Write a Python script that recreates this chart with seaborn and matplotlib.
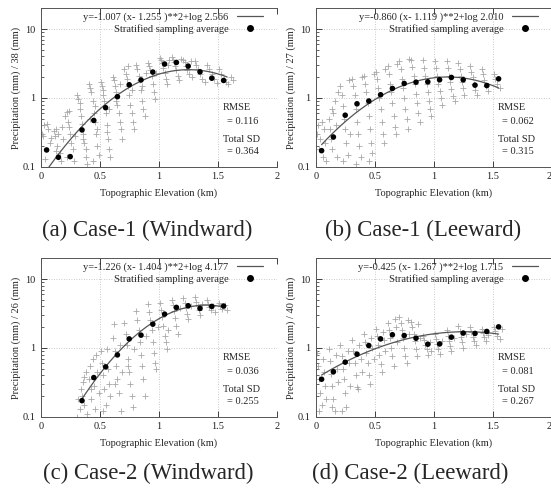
import numpy as np
import pandas as pd
import matplotlib
matplotlib.use("Agg")
import matplotlib.pyplot as plt
import seaborn as sns
from matplotlib.lines import Line2D
from matplotlib.ticker import FixedLocator, LogLocator, NullFormatter

sns.set_style("ticks")
plt.rcParams['font.family'] = ['Liberation Serif', 'DejaVu Serif']

# ---- data ------------------------------------------------------------------
panel_ids = ["a", "b", "c", "d"]
captions = ["(a) Case-1 (Windward)", "(b) Case-1 (Leeward)",
            "(c) Case-2 (Windward)", "(d) Case-2 (Leeward)"]
divisors = [38, 27, 26, 40]
rmse_vals = ["0.116", "0.062", "0.036", "0.081"]
total_sd_vals = ["0.364", "0.315", "0.255", "0.267"]

# fit coefficients as printed in the key: log y = a (x - b)^2 + log c
fit_a = [-1.007, -0.860, -1.226, -0.425]
fit_b = [1.255, 1.119, 1.404, 1.267]
fit_c = [2.566, 2.010, 4.177, 1.715]
fit_xmin = [0.05, 0.05, 0.35, 0.05]
fit_xmax = [1.58, 1.55, 1.55, 1.55]

avg_x = [0.05, 0.15, 0.25, 0.35, 0.45, 0.55, 0.65, 0.75,
         0.85, 0.95, 1.05, 1.15, 1.25, 1.35, 1.45, 1.55]
avg_a = [0.175, 0.137, 0.14, 0.342, 0.47, 0.72, 1.04, 1.55,
         1.82, 2.37, 3.1, 3.27, 2.89, 2.39, 1.93, 1.79]
avg_b = [0.171, 0.27, 0.56, 0.82, 0.90, 1.11, 1.37, 1.62,
         1.69, 1.71, 1.83, 1.98, 1.83, 1.53, 1.51, 1.89]
avg_c_x = [0.35, 0.45, 0.55, 0.65, 0.75, 0.85, 0.95,
           1.05, 1.15, 1.25, 1.35, 1.45, 1.55]
avg_c = [0.171, 0.37, 0.53, 0.79, 1.35, 1.53, 2.21,
         3.09, 3.87, 4.09, 3.74, 4.0, 4.05]
avg_d = [0.35, 0.45, 0.62, 0.81, 1.08, 1.35, 1.55, 1.51,
         1.38, 1.13, 1.14, 1.43, 1.64, 1.62, 1.73, 2.02]

pts_a = [
    (0.01, 0.30), (0.03, 0.40), (0.05, 0.42), (0.06, 0.35), (0.08, 0.22), (0.09, 0.26), (0.04, 0.13), (0.02, 0.28),
    (0.11, 0.33), (0.12, 0.28), (0.13, 0.35), (0.14, 0.20), (0.16, 0.16), (0.17, 0.12), (0.18, 0.38), (0.19, 0.25), (0.15, 0.30), (0.13, 0.17),
    (0.21, 0.55), (0.22, 0.62), (0.23, 0.45), (0.24, 0.38), (0.25, 0.30), (0.26, 0.22), (0.27, 0.18), (0.28, 0.12), (0.24, 0.65), (0.29, 0.28), (0.22, 0.14),
    (0.31, 1.10), (0.32, 0.95), (0.33, 0.70), (0.34, 0.55), (0.35, 0.42), (0.36, 0.30), (0.37, 0.22), (0.38, 0.14), (0.39, 0.11), (0.33, 0.85), (0.36, 0.25), (0.38, 0.18),
    (0.41, 1.60), (0.42, 1.40), (0.43, 1.20), (0.44, 0.90), (0.45, 0.60), (0.46, 0.45), (0.47, 0.30), (0.48, 0.20), (0.49, 0.15), (0.44, 0.12), (0.46, 0.75), (0.48, 0.35), (0.42, 0.50),
    (0.51, 1.70), (0.52, 1.50), (0.53, 1.10), (0.54, 0.90), (0.55, 0.60), (0.56, 0.40), (0.57, 0.25), (0.58, 0.18), (0.59, 0.14), (0.53, 1.30), (0.56, 0.32), (0.58, 0.70),
    (0.61, 2.00), (0.62, 1.80), (0.63, 1.50), (0.64, 1.20), (0.65, 0.80), (0.66, 0.60), (0.67, 0.45), (0.68, 0.35), (0.69, 0.25), (0.64, 0.90), (0.67, 1.60),
    (0.71, 2.60), (0.72, 2.20), (0.73, 1.90), (0.74, 1.50), (0.75, 1.10), (0.76, 0.80), (0.77, 0.60), (0.78, 0.45), (0.79, 0.35), (0.74, 2.90), (0.77, 1.30),
    (0.81, 3.00), (0.82, 2.60), (0.83, 2.10), (0.84, 1.80), (0.85, 1.30), (0.86, 0.90), (0.87, 0.70), (0.88, 0.55), (0.86, 1.50), (0.89, 2.30),
    (0.91, 3.20), (0.92, 2.90), (0.93, 2.50), (0.94, 2.10), (0.95, 1.60), (0.96, 1.20), (0.97, 0.95), (0.98, 2.30),
    (1.01, 3.80), (1.02, 3.50), (1.03, 3.20), (1.04, 2.70), (1.05, 2.30), (1.06, 1.90), (1.07, 1.60), (1.08, 3.00), (1.09, 3.60),
    (1.11, 3.90), (1.12, 3.60), (1.13, 3.30), (1.14, 2.90), (1.15, 2.50), (1.16, 2.10), (1.17, 1.80), (1.19, 3.70),
    (1.21, 3.60), (1.22, 3.30), (1.23, 2.90), (1.24, 2.50), (1.26, 2.20), (1.28, 2.00), (1.27, 3.40),
    (1.31, 3.40), (1.32, 3.00), (1.33, 2.60), (1.35, 2.20), (1.37, 1.90), (1.39, 1.70),
    (1.41, 3.00), (1.43, 2.60), (1.45, 2.20), (1.47, 1.90), (1.49, 1.65),
    (1.51, 2.60), (1.53, 2.20), (1.55, 1.90), (1.57, 1.70), (1.59, 1.60),
    (1.61, 2.00), (1.63, 1.80),
]

pts_b = [
    (0.01, 0.30), (0.02, 0.40), (0.03, 0.18), (0.04, 0.25), (0.06, 0.14), (0.07, 0.35), (0.08, 0.22), (0.09, 0.12), (0.05, 0.45),
    (0.11, 0.50), (0.12, 0.35), (0.13, 0.25), (0.14, 0.18), (0.15, 0.60), (0.16, 0.90), (0.17, 0.40), (0.18, 0.14), (0.19, 1.20), (0.14, 0.70),
    (0.21, 1.50), (0.22, 1.10), (0.23, 0.75), (0.24, 0.50), (0.25, 0.35), (0.26, 0.22), (0.27, 0.15), (0.28, 1.80), (0.29, 0.30), (0.23, 0.12),
    (0.31, 1.90), (0.32, 1.50), (0.33, 1.10), (0.34, 0.70), (0.35, 0.45), (0.36, 0.30), (0.37, 0.20), (0.38, 0.14), (0.39, 2.00), (0.34, 0.11),
    (0.41, 2.10), (0.42, 1.60), (0.43, 1.20), (0.44, 0.85), (0.45, 0.55), (0.46, 0.35), (0.47, 0.22), (0.48, 0.16), (0.49, 2.20), (0.45, 0.12),
    (0.51, 2.40), (0.52, 1.90), (0.53, 1.40), (0.54, 1.00), (0.55, 0.70), (0.56, 0.45), (0.57, 0.30), (0.58, 0.22), (0.59, 2.60),
    (0.61, 2.90), (0.62, 2.20), (0.63, 1.60), (0.64, 1.20), (0.65, 0.85), (0.66, 0.55), (0.67, 0.38), (0.68, 0.30), (0.69, 3.10),
    (0.71, 3.40), (0.72, 2.60), (0.73, 1.90), (0.74, 1.40), (0.75, 1.00), (0.76, 0.70), (0.77, 0.50), (0.78, 0.35), (0.79, 3.70),
    (0.81, 3.60), (0.82, 2.80), (0.83, 2.10), (0.84, 1.60), (0.85, 1.15), (0.86, 0.85), (0.87, 0.60), (0.88, 0.45),
    (0.91, 3.50), (0.92, 2.70), (0.93, 2.10), (0.94, 1.60), (0.95, 1.20), (0.96, 0.90), (0.97, 0.70), (0.98, 0.55),
    (1.01, 3.40), (1.02, 2.70), (1.03, 2.10), (1.04, 1.60), (1.05, 1.25), (1.06, 1.00), (1.07, 0.80),
    (1.11, 3.40), (1.12, 2.70), (1.13, 2.10), (1.14, 1.70), (1.15, 1.35), (1.16, 1.05), (1.18, 0.90),
    (1.21, 3.20), (1.22, 2.60), (1.23, 2.10), (1.24, 1.70), (1.25, 1.40), (1.26, 1.10),
    (1.31, 2.90), (1.32, 2.40), (1.33, 2.00), (1.34, 1.60), (1.35, 1.30), (1.37, 1.10),
    (1.41, 2.60), (1.42, 2.20), (1.43, 1.80), (1.44, 1.50), (1.46, 1.25),
    (1.51, 2.20), (1.52, 1.90), (1.54, 1.60), (1.56, 1.40),
]

pts_c = [
    (0.31, 0.10), (0.32, 0.18), (0.33, 0.13), (0.34, 0.25), (0.35, 0.20), (0.36, 0.32), (0.37, 0.15), (0.38, 0.45), (0.39, 0.11), (0.37, 0.38),
    (0.41, 0.35), (0.42, 0.55), (0.43, 0.18), (0.44, 0.70), (0.45, 0.28), (0.46, 0.13), (0.47, 0.80), (0.48, 0.45), (0.49, 0.22), (0.43, 0.25),
    (0.51, 0.90), (0.52, 0.60), (0.53, 0.40), (0.54, 0.25), (0.55, 0.15), (0.56, 0.95), (0.57, 0.50), (0.58, 0.30), (0.59, 0.20), (0.53, 0.12),
    (0.61, 1.40), (0.62, 2.20), (0.63, 0.90), (0.64, 0.55), (0.65, 0.35), (0.66, 0.22), (0.67, 1.10), (0.68, 0.12), (0.69, 0.45), (0.63, 0.30),
    (0.71, 2.30), (0.72, 1.60), (0.73, 1.10), (0.74, 0.70), (0.75, 0.45), (0.76, 0.30), (0.77, 0.20), (0.78, 0.14), (0.79, 0.95), (0.74, 0.55),
    (0.81, 3.40), (0.82, 2.50), (0.83, 1.80), (0.84, 1.20), (0.85, 0.80), (0.86, 0.55), (0.87, 0.35), (0.88, 0.20), (0.89, 1.50),
    (0.91, 4.30), (0.92, 3.30), (0.93, 2.50), (0.94, 1.80), (0.95, 1.20), (0.96, 0.85), (0.97, 0.60), (0.98, 0.50), (0.99, 2.00),
    (1.01, 4.50), (1.02, 3.60), (1.03, 2.80), (1.04, 2.10), (1.05, 1.50), (1.06, 1.20), (1.07, 0.95), (1.08, 1.80),
    (1.11, 5.00), (1.12, 4.20), (1.13, 3.40), (1.14, 2.70), (1.15, 2.10), (1.16, 1.60), (1.18, 3.80),
    (1.21, 5.30), (1.22, 4.50), (1.23, 3.80), (1.24, 3.10), (1.25, 2.60), (1.27, 4.10),
    (1.31, 5.50), (1.32, 4.70), (1.33, 4.00), (1.34, 3.50), (1.35, 3.00), (1.37, 4.30),
    (1.41, 5.00), (1.42, 4.40), (1.43, 3.90), (1.44, 3.50), (1.46, 4.10), (1.48, 3.30),
    (1.51, 4.50), (1.52, 4.00), (1.54, 3.70), (1.56, 4.20), (1.58, 3.50),
]

pts_d = [
    (0.01, 0.85), (0.02, 0.55), (0.03, 0.35), (0.04, 0.22), (0.05, 0.15), (0.06, 0.70), (0.07, 0.45), (0.08, 0.28), (0.09, 0.18), (0.03, 0.12),
    (0.11, 0.95), (0.12, 0.65), (0.13, 0.42), (0.14, 0.28), (0.15, 0.18), (0.16, 0.12), (0.17, 0.80), (0.18, 0.50), (0.19, 0.32), (0.14, 0.14),
    (0.21, 1.10), (0.22, 0.75), (0.23, 0.50), (0.24, 0.35), (0.25, 0.22), (0.26, 0.14), (0.27, 0.90), (0.28, 0.60), (0.29, 0.28), (0.22, 0.12),
    (0.31, 1.30), (0.32, 0.90), (0.33, 0.60), (0.34, 0.40), (0.35, 0.27), (0.36, 0.25), (0.37, 1.10), (0.38, 0.70), (0.39, 0.45),
    (0.41, 1.60), (0.42, 1.20), (0.43, 0.85), (0.44, 0.60), (0.45, 0.40), (0.46, 0.30), (0.47, 1.40), (0.48, 1.00), (0.49, 0.70),
    (0.51, 1.90), (0.52, 1.50), (0.53, 1.10), (0.54, 0.80), (0.55, 0.58), (0.56, 0.45), (0.57, 1.70), (0.58, 1.30), (0.59, 0.90),
    (0.61, 2.30), (0.62, 1.80), (0.63, 1.40), (0.64, 1.00), (0.65, 0.75), (0.66, 0.55), (0.67, 2.60), (0.68, 2.00), (0.69, 1.20),
    (0.71, 2.80), (0.72, 2.30), (0.73, 1.80), (0.74, 1.40), (0.75, 1.00), (0.76, 0.75), (0.77, 0.60), (0.78, 2.50), (0.79, 1.60),
    (0.81, 2.40), (0.82, 2.00), (0.83, 1.60), (0.84, 1.25), (0.85, 0.95), (0.86, 0.75), (0.87, 2.20), (0.88, 1.40),
    (0.91, 1.50), (0.92, 1.30), (0.93, 1.10), (0.94, 0.95), (0.95, 0.80), (0.97, 1.20), (0.98, 0.90),
    (1.01, 1.60), (1.02, 1.35), (1.03, 1.15), (1.04, 0.95), (1.05, 0.82), (1.07, 1.25),
    (1.11, 1.80), (1.12, 1.50), (1.13, 1.25), (1.14, 1.05), (1.15, 0.90), (1.17, 1.40),
    (1.21, 2.10), (1.22, 1.75), (1.23, 1.45), (1.24, 1.20), (1.25, 1.00), (1.27, 1.60),
    (1.31, 2.00), (1.32, 1.70), (1.33, 1.45), (1.34, 1.25), (1.36, 1.10),
    (1.41, 1.90), (1.42, 1.65), (1.43, 1.45), (1.44, 1.25), (1.46, 1.55),
    (1.51, 2.00), (1.52, 1.75), (1.54, 1.50), (1.56, 1.35), (1.58, 1.90),
]

scatter_pts = [pts_a, pts_b, pts_c, pts_d]
avg_xs = [avg_x, avg_x, avg_c_x, avg_x]
avg_ys = [avg_a, avg_b, avg_c, avg_d]

x_ticks = [0, 0.5, 1, 1.5, 2]
x_tick_labels = ["0", "0.5", "1", "1.5", "2"]
y_ticks = [0.1, 1, 10]
y_tick_labels = ["0.1", "1", "10"]

# ---- layout (pixels of a 551x493 canvas) -----------------------------------
W, H = 551, 493
fig = plt.figure(figsize=(W / 100, H / 100), dpi=100)
fig.patch.set_facecolor("white")

ax_left = [40.7, 315.7, 40.7, 315.7]
ax_top = [8.3, 8.3, 258.3, 258.3]
ax_w, ax_h = 236.0, 158.4
cap_xy = [(147, 230), (423, 230), (148, 473), (410, 473)]

FS = 7.5
GRAY_PTS = "#a8a8a8"

for i, pid in enumerate(panel_ids):
    ax = fig.add_axes([ax_left[i] / W, 1 - (ax_top[i] + ax_h) / H, ax_w / W, ax_h / H])

    sdf = pd.DataFrame(scatter_pts[i], columns=["elev", "precip"])
    sns.scatterplot(data=sdf, x="elev", y="precip", marker="+", color=GRAY_PTS,
                    s=15, linewidth=0.6, ax=ax, zorder=2)

    xf = np.linspace(fit_xmin[i], fit_xmax[i], 120)
    yf = 10 ** (fit_a[i] * (xf - fit_b[i]) ** 2 + np.log10(fit_c[i]))
    sns.lineplot(x=xf, y=yf, color="#555555", linewidth=0.9, ax=ax, zorder=3)

    adf = pd.DataFrame({"elev": avg_xs[i], "precip": avg_ys[i]})
    sns.scatterplot(data=adf, x="elev", y="precip", color="black", s=16,
                    edgecolor="none", ax=ax, zorder=4)

    ax.set_yscale("log")
    ax.set_xlim(0, 2)
    ax.set_ylim(0.1, 20)
    ax.xaxis.set_major_locator(FixedLocator(x_ticks))
    ax.set_xticklabels(x_tick_labels)
    ax.yaxis.set_major_locator(FixedLocator(y_ticks))
    ax.set_yticklabels(y_tick_labels)
    ax.yaxis.set_minor_locator(LogLocator(base=10, subs=np.arange(2, 10)))
    ax.yaxis.set_minor_formatter(NullFormatter())
    ax.tick_params(axis="both", which="both", direction="in", top=True, right=False,
                   labelsize=FS, colors="#222222", pad=4)
    ax.tick_params(axis="both", which="major", length=4, width=0.6)
    ax.tick_params(axis="y", which="minor", length=2, width=0.5)
    if i in (1, 3):
        # the last x label sits on the canvas edge; pull it inside
        ax.get_xticklabels()[-1].set_horizontalalignment("right")

    ax.grid(True, which="major", linestyle=(0, (1, 2)), color="#b8b8b8", linewidth=0.6)
    ax.spines["right"].set_visible(False)
    for s in ["left", "top", "bottom"]:
        ax.spines[s].set_color("#555555")
        ax.spines[s].set_linewidth(0.7)

    ax.set_xlabel("Topographic Elevation (km)", fontsize=FS)
    ax.set_ylabel("Precipitation (mm) / %d (mm)" % divisors[i], fontsize=FS)
    ax.xaxis.set_label_coords(0.5, -0.135)
    ax.yaxis.set_label_coords(-0.085, 0.5)

    handles = [
        Line2D([], [], color="#555555", linewidth=0.9),
        Line2D([], [], color="black", marker="o", markersize=4, linestyle="none"),
    ]
    labels = ["y=%.3f (x- %.3f )**2+log %.3f" % (fit_a[i], fit_b[i], fit_c[i]),
              "Stratified sampling average"]
    ax.legend(handles, labels, loc="upper right", bbox_to_anchor=(0.963, 1.005),
              frameon=False, markerfirst=False, fontsize=FS, borderpad=0,
              handlelength=2.5, handletextpad=0.8, labelspacing=0.15)

    ax.text(0.771, 0.371, "RMSE", transform=ax.transAxes, fontsize=FS, va="center", ha="left")
    ax.text(0.791, 0.288, "= " + rmse_vals[i], transform=ax.transAxes, fontsize=FS, va="center", ha="left")
    ax.text(0.771, 0.174, "Total SD", transform=ax.transAxes, fontsize=FS, va="center", ha="left")
    ax.text(0.791, 0.098, "= " + total_sd_vals[i], transform=ax.transAxes, fontsize=FS, va="center", ha="left")

    fig.text(cap_xy[i][0] / W, 1 - cap_xy[i][1] / H, captions[i], fontsize=16.4,
             ha="center", va="center")

fig.savefig("out.png", dpi=100, facecolor="white")
